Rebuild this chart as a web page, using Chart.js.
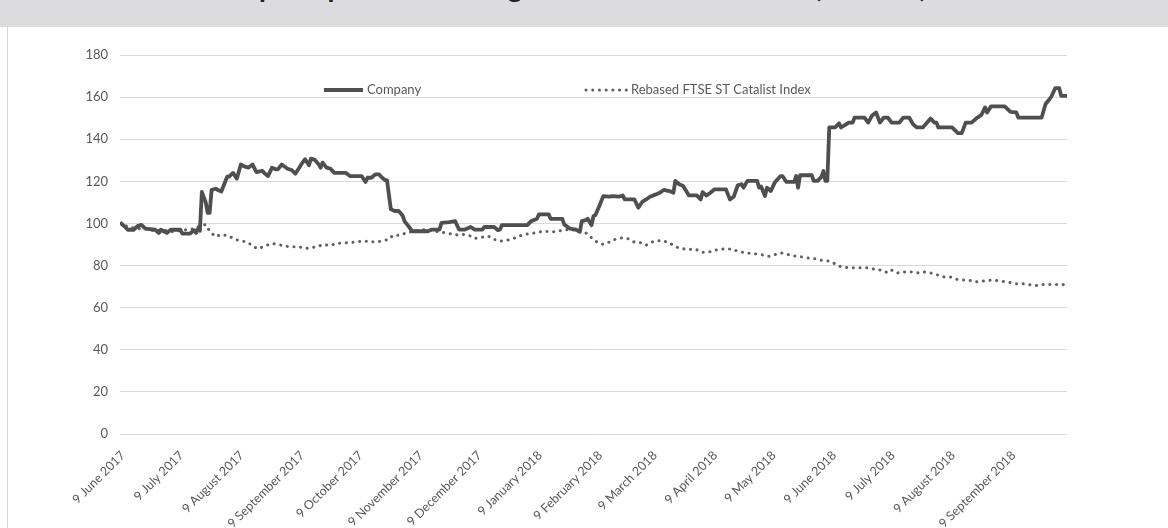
<!DOCTYPE html>
<html>
<head>
<meta charset="utf-8">
<script src="https://cdn.jsdelivr.net/npm/chart.js@4.4.1/dist/chart.umd.min.js"></script>
<style>
  html, body { margin: 0; padding: 0; background: #fff; }
  #wrap { position: relative; width: 1168px; height: 528px; overflow: hidden; }
  #band { position: absolute; top: 0; left: 0; width: 1168px; height: 27px; background: #dcdcde; overflow: hidden; z-index: 2; }
  #band div { position: absolute; left: 182px; top: -28px; font: bold 28px Lato, "Liberation Sans", sans-serif; line-height: 28px; color: #222; white-space: nowrap; }
  #edge { position: absolute; left: 7px; top: 27px; width: 1px; height: 501px; background: #d4d4d4; z-index: 2; }
  canvas { position: absolute; top: 0; left: 0; }
</style>
</head>
<body>
<div id="wrap">
  <div id="band"><div>Share price performance against the Catalist Index (rebased)</div></div>
  <div id="edge"></div>
  <canvas id="chart" width="1168" height="528"></canvas>
</div>
<script>
// ---------------- dati ----------------
// x = days since 9 June 2017

var tickDays = [0, 30, 61, 92, 122, 153, 183, 214, 245, 273, 304, 334, 365, 395, 426, 457];
var tickLabels = ['9 June 2017', '9 July 2017', '9 August 2017', '9 September 2017', '9 October 2017',
    '9 November 2017', '9 December 2017', '9 January 2018', '9 February 2018', '9 March 2018',
    '9 April 2018', '9 May 2018', '9 June 2018', '9 July 2018', '9 August 2018', '9 September 2018'];

var companyDays = [0, 3, 4, 7, 9, 11, 13, 18, 20, 21, 24, 26, 28, 31, 32, 36, 38, 39, 40, 41,
    42, 44, 45, 46, 47, 49, 50, 52, 55, 56, 58, 60, 62, 64, 66, 68, 70, 73, 74, 76,
    78, 80, 81, 83, 86, 88, 90, 92, 93, 95, 97, 98, 100, 102, 103, 104, 106, 108, 110, 116,
    118, 121, 124, 126, 127, 129, 131, 133, 134, 136, 137, 139, 141, 143, 145, 146, 148, 150, 153, 158,
    160, 164, 165, 169, 172, 174, 177, 180, 182, 186, 187, 192, 194, 195, 196, 209, 211, 214, 215, 220,
    221, 227, 228, 231, 234, 236, 237, 239, 240, 242, 243, 244, 246, 248, 251, 253, 256, 258, 259, 264,
    266, 268, 270, 272, 275, 277, 279, 282, 284, 285, 287, 289, 292, 296, 298, 299, 301, 303, 305, 311,
    313, 315, 317, 319, 320, 322, 327, 328, 329, 331, 332, 334, 336, 339, 340, 342, 346, 347, 348, 349,
    355, 356, 358, 360, 361, 362, 363, 364, 367, 369, 370, 372, 374, 376, 377, 382, 384, 386, 388, 390,
    392, 394, 396, 400, 402, 405, 407, 409, 412, 416, 418, 419, 420, 427, 430, 432, 434, 437, 440, 442,
    444, 445, 447, 454, 457, 460, 461, 473, 475, 477, 478, 480, 482, 483, 486];
var companyValues = [100.5, 98, 97, 97, 98.7, 99.3, 97.5, 97, 95.5, 97, 95.5, 97, 97, 97, 95.2, 95.2, 96.8, 95.5, 97.5, 96.5,
    115, 110, 105, 105, 115.9, 116.5, 116, 115.2, 122.2, 122.2, 124, 121.3, 128, 127, 126.5, 128, 124.4, 125, 124, 122.5,
    126.5, 125.7, 125.7, 128, 126, 125.4, 123.6, 126.5, 128, 130.5, 127.6, 130.8, 130.2, 128, 126.5, 128.9, 126.5, 126, 124, 124,
    122.5, 122.5, 122.5, 119.7, 121.7, 121.7, 123.3, 123.3, 122.2, 120.6, 120.6, 106.7, 105.9, 105.9, 103.8, 101.1, 98.7, 96.3, 96.3, 96.3,
    97.1, 97.1, 100.3, 100.6, 101.1, 97.1, 97.1, 98.3, 97.1, 97.1, 98.3, 98.3, 96.8, 97.1, 99.2, 99.2, 101.1, 102.2, 104.3, 104.3,
    102.2, 102.2, 99.5, 97.5, 97.1, 96, 101.1, 101.6, 102.2, 99.2, 103.5, 104, 108.3, 113, 112.7, 113, 112.7, 113.3, 111.4, 111.4,
    107.5, 110.2, 111.4, 112.7, 113.8, 114.6, 115.9, 115.4, 114.6, 120.2, 118.6, 117.8, 113.3, 113.3, 111.4, 114.9, 113.3, 114.6, 116.2, 116.2,
    111.4, 112.7, 118.1, 118.6, 117, 120.2, 120.2, 117, 117.5, 113, 117, 115.4, 119.4, 122.5, 122.5, 119.7, 119.7, 122.5, 117, 122.9,
    122.9, 120.2, 120.2, 122.2, 124.9, 120.2, 120.2, 145.6, 145.6, 147.6, 145.6, 146.7, 147.9, 147.9, 150.3, 150.3, 147.9, 151.3, 152.7, 147.9,
    150.3, 150.3, 147.9, 147.9, 150.3, 150.3, 147.1, 145.6, 145.6, 149.8, 147.9, 147.9, 145.6, 145.6, 142.9, 142.9, 147.9, 147.9, 150.3, 151.4,
    155.1, 152.7, 155.6, 155.6, 153, 152.7, 150.3, 150.3, 156.7, 159, 160.3, 164.3, 164.3, 160.6, 160.6];

var indexDays = [0, 4, 8, 13, 18, 22, 26, 30, 34, 38, 42, 44, 46, 49, 52, 56, 59, 63, 66, 68,
    71, 74, 78, 81, 85, 88, 92, 95, 98, 102, 104, 108, 111, 116, 120, 124, 127, 131, 134, 138,
    140, 144, 147, 151, 154, 157, 161, 164, 169, 174, 176, 180, 182, 186, 189, 192, 195, 199, 203, 206,
    210, 214, 217, 222, 225, 228, 232, 235, 239, 241, 243, 244, 248, 251, 254, 258, 261, 264, 268, 270,
    274, 278, 282, 285, 288, 292, 295, 299, 302, 305, 310, 314, 317, 321, 325, 329, 333, 336, 340, 343,
    347, 350, 353, 357, 360, 364, 366, 370, 374, 377, 381, 384, 388, 391, 394, 396, 399, 403, 406, 410,
    413, 416, 419, 423, 426, 430, 436, 439, 442, 446, 449, 453, 456, 460, 463, 466, 470, 473, 477, 480,
    484, 486];
var indexValues = [100, 98.5, 97.5, 97.5, 96.5, 97, 96, 96.5, 97, 97.5, 99, 99.5, 96.3, 93.7, 94.8, 94, 92.4, 91.6, 90.8, 89.2,
    87.9, 89.2, 90.5, 90, 89.2, 88.9, 88.9, 88.1, 88.4, 89.2, 90, 89.5, 90.5, 90.8, 91.1, 91.6, 91.6, 91.1, 91.6, 92.4,
    94.3, 94.4, 95.6, 96.3, 96.8, 97.1, 96.3, 96, 95.2, 94.4, 94.8, 94, 92.9, 93.5, 94, 92.4, 91.6, 92.1, 93.2, 94.4,
    95.2, 95.6, 96.3, 96, 96.3, 97.1, 96.8, 97.1, 95.6, 94, 92.4, 91.6, 90, 91.1, 92.4, 93.2, 92.7, 91.1, 90.8, 89.7,
    91.6, 91.9, 90.8, 88.9, 88.1, 87.6, 87.9, 86.3, 86.3, 87.3, 87.9, 87.9, 86.8, 86, 85.7, 85.2, 84.4, 85.2, 86, 85.2,
    84.4, 84.1, 83.6, 83.2, 82.5, 82.1, 81.3, 79.4, 78.9, 78.9, 78.9, 78.9, 78.1, 77.8, 76.5, 77.8, 76.5, 77, 77, 76.5,
    77, 76.5, 75.7, 74.6, 74.6, 73.3, 73, 72.2, 72.5, 73, 73, 72.5, 72.1, 71.4, 71.4, 71, 70.5, 71, 71, 71,
    71, 70.2];

var seriesNames = ['Company', 'Rebased FTSE ST Catalist Index'];

function pts(days, vals) {
    return days.map(function (d, i) { return { x: d, y: vals[i] }; });
}

var FONT = 'Lato, "Liberation Sans", sans-serif';
var TXT = '#595959';

// legend drawn inside the plot, like the Excel original
var insideLegend = {
    id: 'insideLegend',
    afterDraw: function (chart) {
        var c = chart.ctx, a = chart.chartArea, y = a.top + 35;
        var items = [[204, 39], [466, 41]];
        c.save();
        c.font = '13px ' + FONT;
        c.textBaseline = 'middle';
        chart.data.datasets.forEach(function (ds, i) {
            var x0 = a.left + items[i][0], x1 = x0 + items[i][1];
            c.beginPath();
            c.strokeStyle = ds.borderColor;
            c.lineWidth = ds.borderWidth;
            c.lineCap = ds.borderCapStyle || 'butt';
            c.setLineDash(ds.borderDash || []);
            c.moveTo(x0, y);
            c.lineTo(x1, y);
            c.stroke();
            c.setLineDash([]);
            c.fillStyle = TXT;
            c.fillText(ds.label, x1 + 4, y);
        });
        c.restore();
    }
};

var ctx = document.getElementById('chart');

var chartGraph = new Chart(ctx, {
    type: 'line',
    data: {
        datasets: [{
            label: seriesNames[0],
            data: pts(companyDays, companyValues),
            borderWidth: 3.8,
            borderColor: '#4f4f4f',
            backgroundColor: 'transparent',
            pointRadius: 0,
            borderJoinStyle: 'round'
        },
        {
            label: seriesNames[1],
            data: pts(indexDays, indexValues),
            borderWidth: 3,
            borderColor: '#606060',
            backgroundColor: 'transparent',
            pointRadius: 0,
            borderDash: [0.1, 6.6],
            borderCapStyle: 'round'
        }]
    },
    options: {
        responsive: false,
        animation: false,
        layout: { padding: { top: 55, right: 101, bottom: 0, left: 0 } },
        plugins: {
            legend: { display: false },
            tooltip: { enabled: false }
        },
        scales: {
            x: {
                type: 'linear',
                min: 0,
                max: 486,
                afterBuildTicks: function (s) {
                    s.ticks = tickDays.map(function (d) { return { value: d }; });
                },
                afterFit: function (s) { s.height = 94; },
                ticks: {
                    autoSkip: false,
                    minRotation: 45,
                    maxRotation: 45,
                    padding: 14,
                    labelOffset: 3,
                    color: TXT,
                    font: { family: FONT, size: 12.5 },
                    callback: function (v) { return tickLabels[tickDays.indexOf(v)]; }
                },
                grid: { display: false, drawTicks: false },
                border: { display: false }
            },
            y: {
                min: 0,
                max: 180,
                afterFit: function (s) { s.width = 120; },
                ticks: {
                    stepSize: 20,
                    padding: 12,
                    color: TXT,
                    font: { family: FONT, size: 13 }
                },
                grid: { color: '#d9d9d9', drawTicks: false },
                border: { display: false }
            }
        }
    },
    plugins: [insideLegend]
});
</script>
</body>
</html>
